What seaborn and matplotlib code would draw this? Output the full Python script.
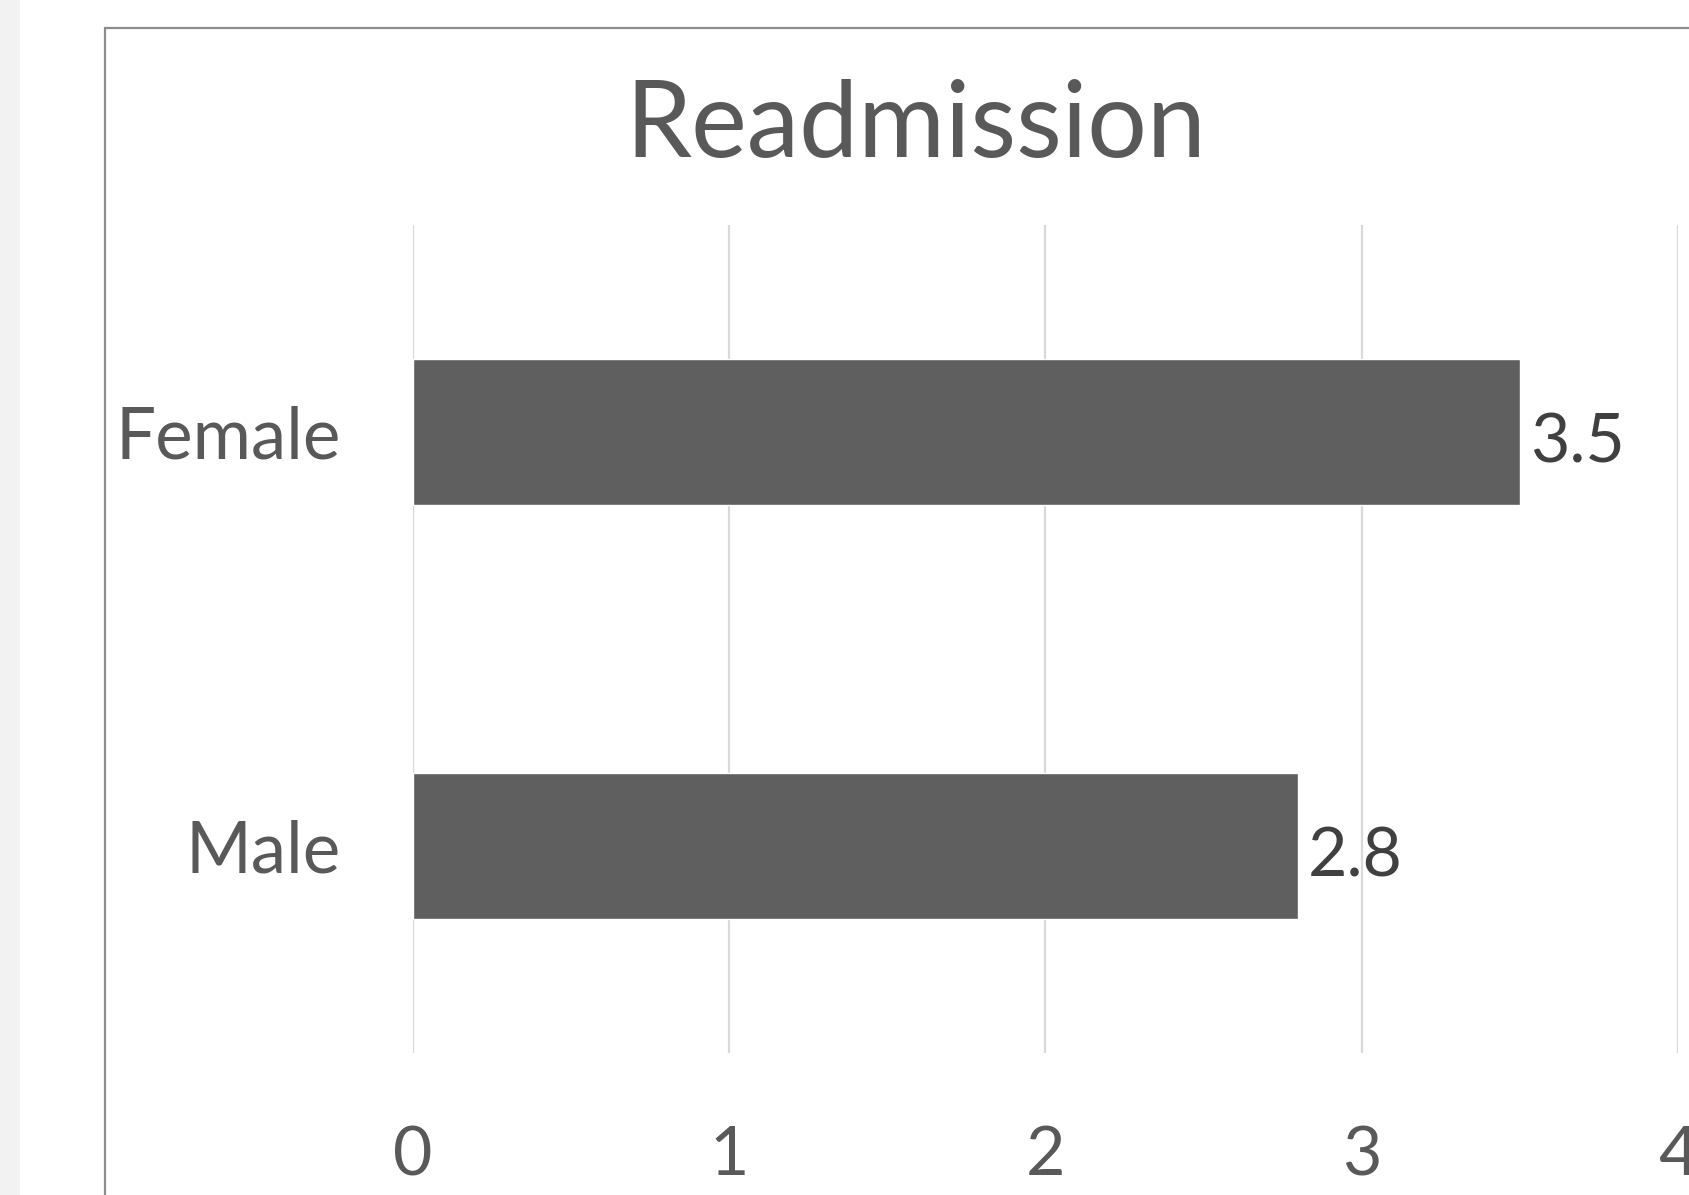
import matplotlib
matplotlib.use("Agg")
import matplotlib.pyplot as plt
import seaborn as sns
import pandas as pd
from matplotlib.patches import Rectangle

categories = ["Female", "Male"]
values = [3.5, 2.8]
x_ticks = [0, 1, 2, 3, 4]

df = pd.DataFrame({"group": categories, "rate": values})

sns.set_theme(style="white")
plt.rcParams["font.family"] = ["Lato", "DejaVu Sans"]

W, H = 1690, 1195
fig = plt.figure(figsize=(W / 100, H / 100), dpi=100)

# light gray margin strip on the left
fig.patches.append(Rectangle((0, 0), 20 / W, 1, transform=fig.transFigure,
                             facecolor="#f2f2f2", edgecolor="none", zorder=0))
# chart frame
fig.patches.append(Rectangle((105 / W, -0.1), 1.2, (H - 28) / H + 0.1,
                             transform=fig.transFigure, facecolor="none",
                             edgecolor="#8c8c8c", linewidth=1.6, zorder=1))

ax = fig.add_axes([413 / W, (H - 1053) / H, 1265 / W, 828 / H])
ax.set_facecolor("none")

sns.barplot(data=df, y="group", x="rate", orient="h", color="#5f5f5f",
            width=0.353, saturation=1, ax=ax, zorder=3)

ax.set_xlim(0, 4)
ax.set_ylim(1.5, -0.5)
ax.set_xticks(x_ticks)
ax.set_xticklabels([str(t) for t in x_ticks])
ax.grid(axis="x", color="#d9d9d9", linewidth=1.6, zorder=0)
ax.grid(axis="y", visible=False)
for s in ax.spines.values():
    s.set_visible(False)
ax.set_xlabel("")
ax.set_ylabel("")
ax.tick_params(axis="x", length=0, pad=52, labelsize=49, labelcolor="#595959")
ax.tick_params(axis="y", length=0, pad=52, labelsize=51, labelcolor="#595959")

for cont in ax.containers:
    anns = ax.bar_label(cont, labels=[f"{v:.1f}" for v in values], padding=7,
                        fontsize=49, color="#404040")
    for a in anns:
        a.xyann = (7, -8)

fig.text((578 + 1122) / 2 / 1568, 1 - 118 / 1109, "Readmission",
         ha="center", va="center", fontsize=76, color="#595959")

fig.savefig("out.png", dpi=100)
